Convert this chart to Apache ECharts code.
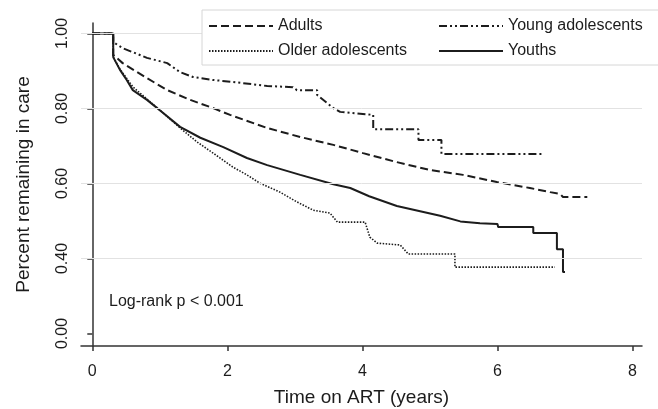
<!DOCTYPE html>
<html><head><meta charset="utf-8">
<script src="https://cdn.jsdelivr.net/npm/echarts@6/dist/echarts.min.js"></script>
<style>html,body{margin:0;padding:0;background:#fff}#c{width:658px;height:409px}</style>
</head><body><div id="c"></div>
<script>
// ---- data ----
const seriesNames = ['Adults', 'Young adolescents', 'Older adolescents', 'Youths'];

const adultsT = [0, 0.31, 0.31, 0.45, 0.81, 1.11, 1.45, 1.79, 2.04, 2.59, 3.08, 3.57, 4.01, 4.51, 5.00, 5.49, 5.99, 6.48, 6.78, 6.93, 6.97, 7.33];
const adultsS = [1.000, 1.000, 0.943, 0.921, 0.881, 0.849, 0.823, 0.801, 0.783, 0.748, 0.724, 0.703, 0.681, 0.657, 0.636, 0.623, 0.604, 0.588, 0.577, 0.572, 0.564, 0.564];

const youngT = [0, 0.31, 0.31, 0.45, 0.81, 1.11, 1.30, 1.49, 1.79, 2.08, 2.59, 2.97, 3.03, 3.33, 3.33, 3.57, 3.67, 4.16, 4.16, 4.83, 4.83, 5.17, 5.17, 6.68];
const youngS = [1.000, 1.000, 0.977, 0.961, 0.935, 0.921, 0.897, 0.884, 0.876, 0.871, 0.860, 0.857, 0.849, 0.849, 0.836, 0.801, 0.791, 0.783, 0.745, 0.745, 0.716, 0.716, 0.679, 0.679];

const olderT = [0, 0.31, 0.31, 0.41, 0.60, 0.81, 1.00, 1.30, 1.55, 1.79, 2.08, 2.29, 2.48, 2.78, 3.03, 3.27, 3.52, 3.63, 4.04, 4.11, 4.22, 4.56, 4.68, 5.37, 5.37, 6.85];
const olderS = [1.000, 1.000, 0.937, 0.905, 0.858, 0.825, 0.796, 0.748, 0.711, 0.681, 0.644, 0.623, 0.601, 0.577, 0.551, 0.529, 0.521, 0.497, 0.497, 0.457, 0.441, 0.436, 0.412, 0.412, 0.377, 0.377];

const youthsT = [0, 0.31, 0.31, 0.41, 0.51, 0.60, 0.81, 1.05, 1.30, 1.60, 1.94, 2.29, 2.59, 3.08, 3.57, 3.82, 4.10, 4.51, 5.15, 5.45, 5.74, 6.00, 6.01, 6.53, 6.53, 6.88, 6.88, 6.97, 6.97, 7.00];
const youthsS = [1.000, 1.000, 0.937, 0.903, 0.876, 0.849, 0.823, 0.788, 0.751, 0.722, 0.697, 0.668, 0.649, 0.623, 0.598, 0.588, 0.566, 0.540, 0.514, 0.499, 0.494, 0.492, 0.484, 0.484, 0.468, 0.468, 0.425, 0.425, 0.364, 0.364];

const xTicks = [0, 2, 4, 6, 8];
const yTickValues = [0.2, 0.4, 0.6, 0.8, 1.0];
const yTickLabels = ['0.00', '0.40', '0.60', '0.80', '1.00'];
const gridLineValues = [0.4, 0.6, 0.8, 1.0];
const xTitle = 'Time on ART (years)';
const yTitle = 'Percent remaining in care';
const annotation = 'Log-rank p < 0.001';

// ---- chart ----
const FONT = '"Liberation Sans", Arial, sans-serif';
const INK = '#1c1c1c';
const pairs = (t, s) => t.map((v, i) => [v, s[i]]);

const chart = echarts.init(document.getElementById('c'), null, { renderer: 'canvas' });

function curve(name, t, s, type, width) {
  return {
    name, type: 'line', data: pairs(t, s), showSymbol: false, symbol: 'none',
    z: 3, animation: false,
    lineStyle: { color: INK, width, type, cap: 'butt' },
    itemStyle: { color: INK }
  };
}

chart.setOption({
  animation: false,
  backgroundColor: '#fff',
  grid: { left: 81, right: 16, top: 23, bottom: 63, outerBoundsMode: 'none', containLabel: false },
  xAxis: {
    type: 'value', min: -0.167, max: 8.14,
    name: xTitle, nameLocation: 'middle', nameGap: 42,
    nameTextStyle: { fontFamily: FONT, fontSize: 19, color: INK },
    axisLine: { show: true, lineStyle: { color: '#333', width: 1.5 } },
    axisTick: { show: true, length: 5, customValues: xTicks, lineStyle: { color: '#333', width: 1.5 } },
    axisLabel: { customValues: xTicks, margin: 18, fontFamily: FONT, fontSize: 16, color: INK },
    splitLine: { show: false }
  },
  yAxis: {
    type: 'value', min: 0.1667, max: 1.028,
    name: yTitle, nameLocation: 'middle', nameGap: 48,
    nameTextStyle: { fontFamily: FONT, fontSize: 19, color: INK },
    axisLine: { show: true, lineStyle: { color: '#333', width: 1.5 } },
    axisTick: { show: true, length: 5, customValues: yTickValues, lineStyle: { color: '#333', width: 1.5 } },
    axisLabel: {
      customValues: yTickValues, rotate: 90, margin: 10, fontFamily: FONT, fontSize: 16, color: INK,
      formatter: v => { const i = yTickValues.findIndex(u => Math.abs(u - v) < 1e-6); return i >= 0 ? yTickLabels[i] : ''; }
    },
    splitLine: { show: false }
  },
  legend: {
    data: seriesNames,
    left: 202, top: 10, width: 470,
    orient: 'horizontal',
    itemWidth: 64, itemHeight: 14, itemGap: 9,
    padding: [8, 40, 6, 6],
    borderColor: '#d6d6d6', borderWidth: 1, backgroundColor: '#fff',
    itemStyle: { color: 'rgba(0,0,0,0)', borderWidth: 0, opacity: 0 },
    formatter: n => '{a|' + n + '}',
    textStyle: {
      fontFamily: FONT, fontSize: 16, color: INK,
      rich: { a: { width: 151, lineHeight: 14, fontFamily: FONT, fontSize: 16, color: INK } }
    },
    z: 10
  },
  graphic: [{
    type: 'text', left: 109, top: 294, z: 5,
    style: { text: annotation, font: '16px ' + FONT, fill: INK }
  }],
  series: [
    {
      name: '_grid', type: 'line', data: [], z: 1, silent: true,
      markLine: {
        silent: true, symbol: ['none', 'none'], label: { show: false }, animation: false,
        lineStyle: { color: '#e2e2e2', width: 1, type: 'solid' },
        data: gridLineValues.map(v => ({ yAxis: v }))
      }
    },
    curve('Adults', adultsT, adultsS, [8, 4], 2),
    curve('Young adolescents', youngT, youngS, [8, 3, 2, 3, 2, 3], 2),
    curve('Older adolescents', olderT, olderS, [1.5, 1.5], 1.6),
    curve('Youths', youthsT, youthsS, 'solid', 2)
  ]
});
</script></body></html>
